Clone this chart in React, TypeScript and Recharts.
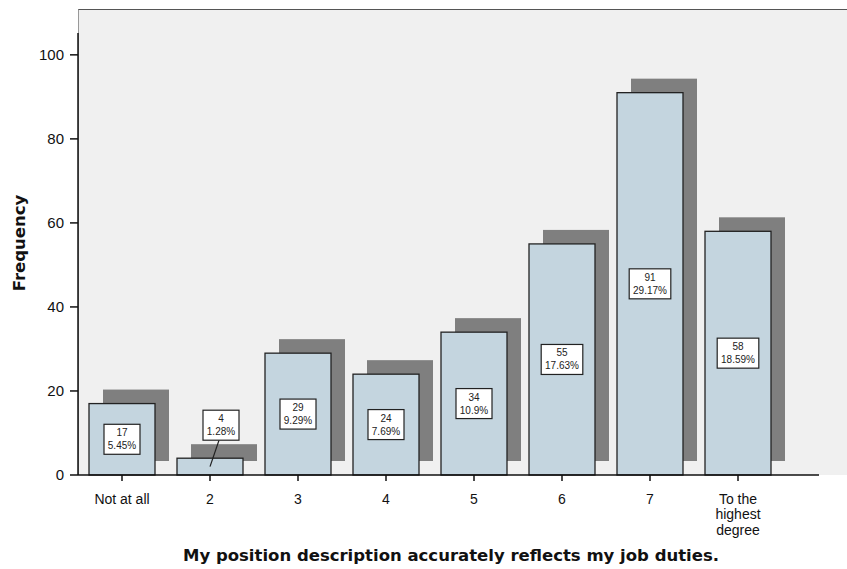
import { ComposedChart, Bar, XAxis, YAxis, LabelList, Label, Text } from "recharts";

const categories = ["Not at all", "2", "3", "4", "5", "6", "7", "To the highest degree"];
const frequencies = [17, 4, 29, 24, 34, 55, 91, 58];
const percentLabels = ["5.45%", "1.28%", "9.29%", "7.69%", "10.9%", "17.63%", "29.17%", "18.59%"];
const yTicks = [0, 20, 40, 60, 80, 100];

const data = categories.map((name, i) => ({ name, count: frequencies[i] }));

const FONT = "'Liberation Sans', Arial, sans-serif";
const TITLE_FONT = "'DejaVu Sans', Verdana, sans-serif";
const BAR_FILL = "#c4d5df";
const SHADOW = "#7f7f7f";
const SHIFT = 14;

function ShadowBar(props: any) {
  const { x, y, width, height } = props;
  return (
    <g>
      <rect x={x + SHIFT} y={y - SHIFT} width={width} height={height} fill={SHADOW} />
      <rect x={x} y={y} width={width} height={height} fill={BAR_FILL} stroke="#222" strokeWidth={1.3} />
    </g>
  );
}

function ValueBox(props: any) {
  const { x, y, width, height, index } = props;
  const cx = x + width / 2;
  const lines = [String(frequencies[index]), percentLabels[index]];
  const boxW = Math.max(...lines.map((l) => l.length)) * 5.6 + 8;
  const boxH = 30;
  let bx = cx - boxW / 2;
  let by = y + height / 2 - boxH / 2;
  let leader = null;
  if (height < boxH + 6) {
    bx = cx + 11 - boxW / 2;
    by = y - 48;
    leader = <line x1={cx + 9} y1={by + boxH} x2={cx} y2={y + height / 2} stroke="#222" strokeWidth={1.2} />;
  }
  return (
    <g>
      {leader}
      <rect x={bx} y={by} width={boxW} height={boxH} fill="#fff" stroke="#222" strokeWidth={1.2} />
      <text x={bx + boxW / 2} y={by + 12} textAnchor="middle" fontSize={10} fontFamily={FONT} fill="#222">
        {lines[0]}
      </text>
      <text x={bx + boxW / 2} y={by + 25} textAnchor="middle" fontSize={10} fontFamily={FONT} fill="#222">
        {lines[1]}
      </text>
    </g>
  );
}

function CategoryTick(props: any) {
  const { x, y, payload } = props;
  return (
    <Text
      x={x}
      y={y + 11}
      width={66}
      textAnchor="middle"
      verticalAnchor="start"
      lineHeight={15.5}
      fontSize={14}
      fontFamily={FONT}
      fill="#111"
    >
      {payload.value}
    </Text>
  );
}

export default function App() {
  return (
    <div style={{ position: "fixed", left: 0, top: 0, width: 847, height: 569, background: "#fff" }}>
      <div
        style={{
          position: "absolute",
          left: 78,
          top: 9,
          width: 769,
          height: 466,
          background: "#f0f0f0",
          borderTop: "1.5px solid #555",
          borderLeft: "1px solid #999",
          boxSizing: "border-box",
        }}
      />
      <div style={{ position: "absolute", left: 0, top: 0 }}>
        <ComposedChart width={847} height={569} data={data} margin={{ top: 33, right: 28, bottom: 0, left: 0 }}>
          <XAxis
            dataKey="name"
            height={94}
            padding={{ left: 0, right: 37 }}
            tick={<CategoryTick />}
            tickSize={6}
            stroke="#111"
            strokeWidth={1.5}
            interval={0}
          >
            <Label
              content={() => (
                <text x={451} y={561} textAnchor="middle" fontSize={16.5} fontWeight="bold" fontFamily={TITLE_FONT} fill="#111">
                  My position description accurately reflects my job duties.
                </text>
              )}
            />
          </XAxis>
          <YAxis
            width={78}
            domain={[0, 105.2]}
            ticks={yTicks}
            tickSize={8}
            tickMargin={6}
            stroke="#111"
            strokeWidth={1.5}
            tick={{ fontSize: 15, fontFamily: FONT, fill: "#111" }}
          >
            <Label
              content={() => (
                <text
                  x={25}
                  y={243}
                  transform="rotate(-90 25 243)"
                  textAnchor="middle"
                  fontSize={16.5}
                  fontWeight="bold"
                  fontFamily={TITLE_FONT}
                  fill="#111"
                >
                  Frequency
                </text>
              )}
            />
          </YAxis>
          <Bar dataKey="count" barSize={66} shape={<ShadowBar />} isAnimationActive={false}>
            <LabelList dataKey="count" content={<ValueBox />} />
          </Bar>
        </ComposedChart>
      </div>
    </div>
  );
}
